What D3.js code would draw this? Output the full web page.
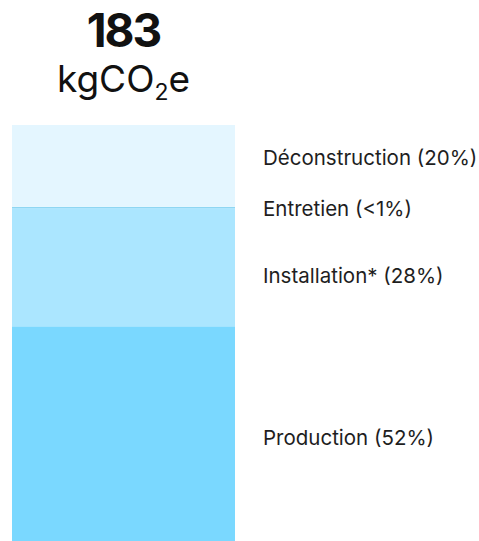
<!DOCTYPE html>
<html>
<head>
<meta charset="utf-8">
<script src="https://cdn.jsdelivr.net/npm/d3@7"></script>
<style>
  html, body { margin: 0; padding: 0; background: #ffffff; }
  svg { display: block; font-family: Inter, "Noto Sans", sans-serif; }
</style>
</head>
<body>
<svg id="chart" width="479" height="541"></svg>
<script>
// ---- data ----
const categories = ["Production", "Installation*", "Entretien", "Déconstruction"];
const values = [94.5, 52, 0.6, 36];           // kgCO2e per phase
const shareLabels = ["52%", "28%", "<1%", "20%"];
const totalValue = 183;
const unitLabel = ["kgCO", "2", "e"];
const colors = ["#7ad8ff", "#abe6ff", "#8fd6f2", "#e4f6ff"];

// ---- layout ----
const barX0 = 12, barX1 = 235, barTop = 125, barBottom = 541;
const labelX = 263;
// small label nudges (px) to keep labels clear of the thin segment
const labelNudge = { "Production": 3.5, "Installation*": 8.5, "Entretien": 1, "Déconstruction": -8.5 };

const svg = d3.select("#chart");

const y = d3.scaleLinear()
  .domain([0, d3.sum(values)])
  .range([barBottom, barTop]);

const x = d3.scaleBand()
  .domain(["total"])
  .range([barX0, barX1])
  .padding(0);

// stacked data
const row = {};
categories.forEach((c, i) => row[c] = values[i]);
const stack = d3.stack().keys(categories)([row]);

svg.append("g")
  .selectAll("rect")
  .data(stack)
  .join("rect")
  .attr("x", x("total"))
  .attr("width", x.bandwidth())
  .attr("y", d => y(d[0][1]))
  .attr("height", d => y(d[0][0]) - y(d[0][1]))
  .attr("fill", (d, i) => colors[i]);

svg.append("g")
  .selectAll("text")
  .data(stack)
  .join("text")
  .attr("x", labelX)
  .attr("y", d => (y(d[0][0]) + y(d[0][1])) / 2 + labelNudge[d.key])
  .attr("dy", "0.36em")
  .attr("font-size", 20.5)
  .attr("fill", "#1e1e1e")
  .text((d, i) => `${categories[i]} (${shareLabels[i]})`);

// header
const cx = (barX0 + barX1) / 2;
svg.append("text")
  .attr("x", cx)
  .attr("y", 47)
  .attr("text-anchor", "middle")
  .attr("font-size", 46)
  .attr("font-weight", 700)
  .attr("letter-spacing", -2)
  .attr("fill", "#111")
  .text(totalValue);

const unit = svg.append("text")
  .attr("x", cx)
  .attr("y", 92)
  .attr("text-anchor", "middle")
  .attr("font-size", 37)
  .attr("fill", "#111");
unit.append("tspan").text(unitLabel[0]);
unit.append("tspan").attr("font-size", 23).attr("dy", 8).text(unitLabel[1]);
unit.append("tspan").attr("dy", -8).text(unitLabel[2]);
</script>
</body>
</html>
